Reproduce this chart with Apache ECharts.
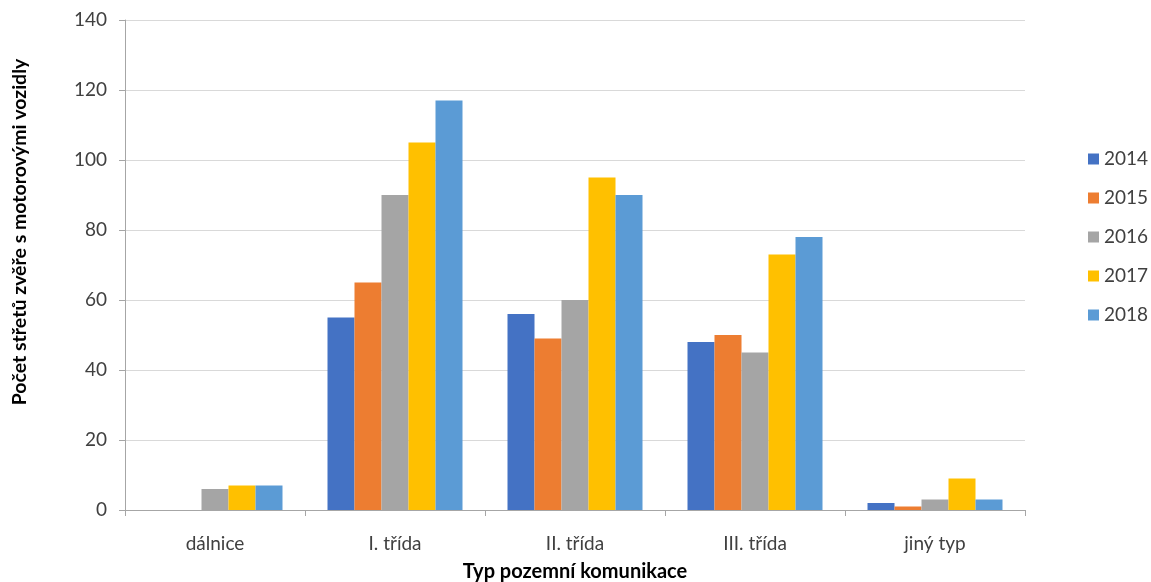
<!DOCTYPE html>
<html><head><meta charset="utf-8">
<script src="https://cdn.jsdelivr.net/npm/echarts@6/dist/echarts.min.js"></script>
<style>html,body{margin:0;padding:0;background:#fff}#c{width:1151px;height:582px}</style>
</head><body><div id="c"></div>
<script>
const categories = ['dálnice', 'I. třída', 'II. třída', 'III. třída', 'jiný typ'];
const years = ['2014', '2015', '2016', '2017', '2018'];
const v2014 = [0, 55, 56, 48, 2];
const v2015 = [0, 65, 49, 50, 1];
const v2016 = [6, 90, 60, 45, 3];
const v2017 = [7, 105, 95, 73, 9];
const v2018 = [7, 117, 90, 78, 3];
const yTicks = [0, 20, 40, 60, 80, 100, 120, 140];
const colors = ['#4472C4', '#ED7D31', '#A5A5A5', '#FFC000', '#5B9BD5'];
const seriesValues = [v2014, v2015, v2016, v2017, v2018];
const font = 'Lato, "Open Sans", sans-serif';

const chart = echarts.init(document.getElementById('c'));
chart.setOption({
  animation: false,
  color: colors,
  textStyle: { fontFamily: font },
  grid: { left: 125, right: 126, top: 20, bottom: 72, containLabel: false, outerBoundsMode: 'none' },
  legend: {
    orient: 'vertical', left: 1083, top: 144, itemGap: 19,
    itemWidth: 11, itemHeight: 11, icon: 'rect',
    textStyle: { fontSize: 19, lineHeight: 20, color: '#404040', fontFamily: font },
    data: years
  },
  xAxis: {
    type: 'category', data: categories,
    name: 'Typ pozemní komunikace', nameLocation: 'middle', nameGap: 52,
    nameTextStyle: { fontSize: 20, fontWeight: 'bold', color: '#000', fontFamily: font },
    axisLine: { lineStyle: { color: '#A6A6A6' } },
    axisTick: { show: true, length: 6, lineStyle: { color: '#A6A6A6' } },
    axisLabel: { fontSize: 19, color: '#404040', margin: 24, fontFamily: font }
  },
  yAxis: {
    type: 'value', min: yTicks[0], max: yTicks[yTicks.length - 1], interval: 20,
    name: 'Počet střetů zvěře s motorovými vozidly', nameLocation: 'middle', nameGap: 95,
    nameTextStyle: { fontSize: 19.5, fontWeight: 'bold', color: '#000', fontFamily: font, padding: [0, 0, 0, 66] },
    axisLine: { show: true, lineStyle: { color: '#A6A6A6' } },
    axisTick: { show: true, length: 6, lineStyle: { color: '#A6A6A6' } },
    splitLine: { lineStyle: { color: '#D9D9D9' } },
    axisLabel: { fontSize: 19, color: '#404040', margin: 18, fontFamily: font }
  },
  series: years.map((y, i) => ({
    name: y, type: 'bar', data: seriesValues[i],
    barGap: '0%', barCategoryGap: '25%'
  }))
});
</script></body></html>
